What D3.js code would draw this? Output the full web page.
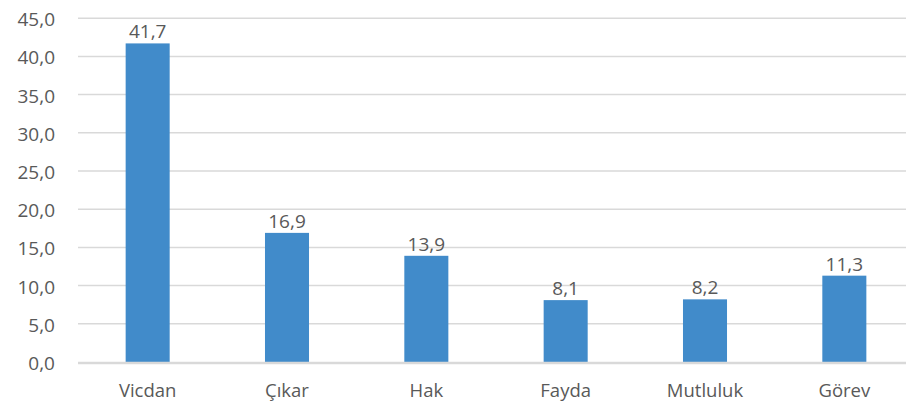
<!DOCTYPE html>
<html>
<head>
<meta charset="utf-8">
<script src="https://cdn.jsdelivr.net/npm/d3@7"></script>
<style>
  html, body { margin: 0; padding: 0; background: #fff; }
  svg { display: block; }
  text { font-family: "Open Sans", Lato, sans-serif; fill: #595959; }
</style>
</head>
<body>
<svg id="chart" width="906" height="407"></svg>
<script>
const categories = ["Vicdan", "Çıkar", "Hak", "Fayda", "Mutluluk", "Görev"];
const values = [41.7, 16.9, 13.9, 8.1, 8.2, 11.3];
const yTicks = [0, 5, 10, 15, 20, 25, 30, 35, 40, 45];

const svg = d3.select("#chart");
const fmt = v => d3.format(".1f")(v).replace(".", ",");

const x = d3.scaleBand().domain(categories).range([78, 914]).paddingInner(0.684).paddingOuter(0.342);
const y = d3.scaleLinear().domain([0, 45]).range([362, 18.2]);

// horizontal gridlines
svg.append("g").selectAll("line").data(yTicks.filter(t => t > 0)).join("line")
  .attr("x1", 78).attr("x2", 914)
  .attr("y1", d => y(d)).attr("y2", d => y(d))
  .attr("stroke", "#d9d9d9").attr("stroke-width", 1.5);

// y tick labels
svg.append("g").selectAll("text").data(yTicks).join("text")
  .attr("x", 55).attr("y", d => y(d) + 1)
  .attr("text-anchor", "end").attr("dominant-baseline", "central")
  .style("font-size", "19px")
  .text(fmt);

// bars
svg.append("g").selectAll("rect").data(values).join("rect")
  .attr("x", (d, i) => x(categories[i]))
  .attr("width", x.bandwidth())
  .attr("y", d => y(d))
  .attr("height", d => y(0) - y(d))
  .attr("fill", "#418bca");

// baseline
svg.append("line")
  .attr("x1", 78).attr("x2", 914)
  .attr("y1", y(0) + 1).attr("y2", y(0) + 1)
  .attr("stroke", "#d9d9d9").attr("stroke-width", 2.5);

// value labels
svg.append("g").selectAll("text").data(values).join("text")
  .attr("x", (d, i) => x(categories[i]) + x.bandwidth() / 2)
  .attr("y", d => y(d) - 5)
  .attr("text-anchor", "middle")
  .style("font-size", "19px")
  .text(fmt);

// category labels
svg.append("g").selectAll("text").data(categories).join("text")
  .attr("x", d => x(d) + x.bandwidth() / 2)
  .attr("y", 397)
  .attr("text-anchor", "middle")
  .style("font-size", "18.5px")
  .text(d => d);
</script>
</body>
</html>
